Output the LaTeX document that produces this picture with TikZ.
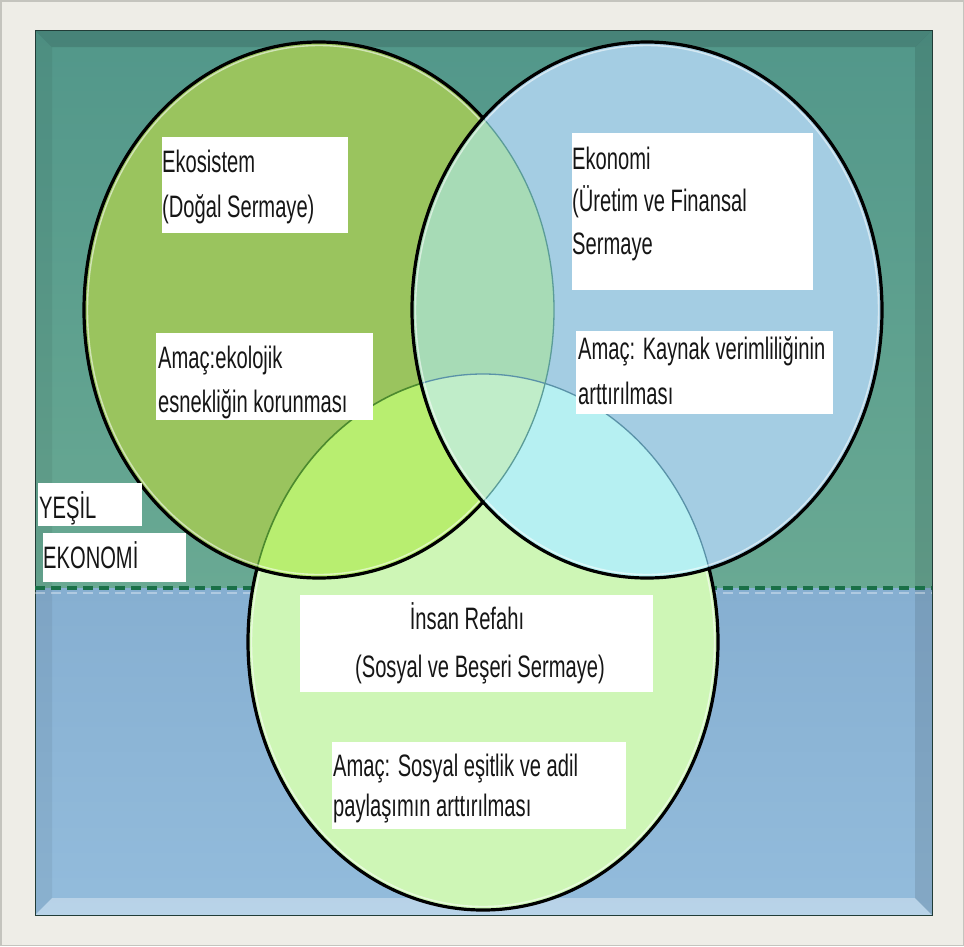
\documentclass[tikz,border=0pt]{standalone}
\usepackage{fontspec}
\newfontfamily\narrowfont[FakeStretch=0.65]{Liberation Sans}
\definecolor{framecol}{HTML}{EEEDE7}
\definecolor{framebd}{HTML}{C4C4BE}
\definecolor{tealtop}{HTML}{52978A}
\definecolor{tealbot}{HTML}{69A993}
\definecolor{bluetop}{HTML}{86AFD1}
\definecolor{bluebot}{HTML}{93BCDC}
\definecolor{cA}{HTML}{9AC45E}
\definecolor{cB}{HTML}{A4CDE3}
\definecolor{cC}{HTML}{CEF6B6}
\definecolor{cAB}{HTML}{A7DBB6}
\definecolor{cAC}{HTML}{B8EE70}
\definecolor{cBC}{HTML}{B6F0F2}
\definecolor{cABC}{HTML}{C0EDC9}
\definecolor{dashcol}{HTML}{1A7048}
\definecolor{txtcol}{HTML}{161616}
\definecolor{arcA}{HTML}{4C8A2E}
\definecolor{arcB}{HTML}{5A92A8}
\definecolor{arcAin}{HTML}{5B9C98}
\def\ellA{(319,310) ellipse [x radius=235, y radius=268]}
\def\ellB{(647,310) ellipse [x radius=235, y radius=268]}
\def\ellC{(483,642) ellipse [x radius=235, y radius=268]}
\def\ellAh{(319,310) ellipse [x radius=231.5, y radius=264.5]}
\def\ellBh{(647,310) ellipse [x radius=231.5, y radius=264.5]}
\def\ellCh{(483,642) ellipse [x radius=231.5, y radius=264.5]}
\tikzset{
  panel/.style={fill=white, inner sep=0pt, anchor=north west},
  lbl/.style={font=\narrowfont\fontsize{31}{36}\selectfont, text=txtcol, inner sep=0pt},
  rim/.style={draw=black, line width=3.2pt},
  glow/.style={draw=white, line width=1.4pt, opacity=0.55},
}
\begin{document}
\begin{tikzpicture}[x=1pt,y=-1pt]
\useasboundingbox (0,0) rectangle (964,946);
% outer frame
\fill[framecol] (0,0) rectangle (964,946);
\draw[framebd, line width=1.5pt] (0.75,0.75) rectangle (963.25,945.25);
% inner background
\shade[top color=tealtop, bottom color=tealbot] (35,30) rectangle (932,588);
\shade[top color=bluetop, bottom color=bluebot] (35,588) rectangle (932,915);
% bevel
\fill[black, opacity=0.13] (35,30) -- (932,30) -- (915,47) -- (52,47) -- cycle;
\fill[black, opacity=0.06] (35,30) -- (52,47) -- (52,898) -- (35,915) -- cycle;
\fill[black, opacity=0.10] (932,30) -- (932,915) -- (915,898) -- (915,47) -- cycle;
\fill[white, opacity=0.35] (35,915) -- (932,915) -- (915,898) -- (52,898) -- cycle;
\draw[black!60!tealtop, line width=0.8pt] (35,30) rectangle (932,915);
% dashed line
\draw[white, opacity=0.35, line width=2pt, dash pattern=on 10pt off 6pt] (35,593) -- (932,593);
\draw[dashcol, line width=3.8pt, dash pattern=on 10pt off 6pt] (35,588) -- (932,588);
% circle C
\fill[cC] \ellC;
\draw[glow] \ellCh;
\draw[rim] \ellC;
% circle A
\fill[cA] \ellA;
\begin{scope}\clip \ellC; \fill[cAC] \ellA; \end{scope}
\begin{scope}\clip \ellA; \draw[arcA, line width=1.6pt] \ellC; \end{scope}
\draw[glow] \ellAh;
\draw[rim] \ellA;
% circle B
\fill[cB] \ellB;
\begin{scope}\clip \ellC; \fill[cBC] \ellB; \end{scope}
\begin{scope}\clip \ellA; \fill[cAB] \ellB; \end{scope}
\begin{scope}\clip \ellA; \clip \ellC; \fill[cABC] \ellB; \end{scope}
\begin{scope}\clip \ellB; \draw[arcB, line width=1.3pt] \ellC; \draw[arcAin, line width=1.3pt] \ellA; \end{scope}
\draw[glow] \ellBh;
\draw[rim] \ellB;
% boxes
\node[panel, minimum width=186, minimum height=96] (b1) at (162,137) {};
\node[panel, minimum width=217, minimum height=87] (b2) at (156,333) {};
\node[panel, minimum width=241, minimum height=157] (b3) at (572,133) {};
\node[panel, minimum width=257, minimum height=83] (b4) at (576,331) {};
\node[panel, minimum width=104, minimum height=43] (b5) at (38,483) {};
\node[panel, minimum width=143, minimum height=49] (b6) at (43,533) {};
\node[panel, minimum width=353, minimum height=97] (b7) at (300,595) {};
\node[panel, minimum width=294, minimum height=87] (b8) at (332,742) {};
% texts
\node[lbl, anchor=base west] (t1) at (162,172) {Ekosistem};
\node[lbl, anchor=base west] (t2) at (162,217) {(Doğal Sermaye)};
\node[lbl, anchor=base west] (t3) at (158,368) {Amaç:ekolojik};
\node[lbl, anchor=base west] (t4) at (158,412) {esnekliğin korunması};
\node[lbl, anchor=base west] (t5) at (572,169) {Ekonomi};
\node[lbl, anchor=base west] (t6) at (572,211) {(Üretim ve Finansal};
\node[lbl, anchor=base west] (t7) at (572,254) {Sermaye};
\node[lbl, anchor=base west] (t8) at (578,359) {Amaç: Kaynak verimliliğinin};
\node[lbl, anchor=base west] (t9) at (578,404) {arttırılması};
\node[lbl, anchor=base west] (t10) at (39,518) {YEŞİL};
\node[lbl, anchor=base west] (t11) at (43,568) {EKONOMİ};
\node[lbl, anchor=base] (t12) at (467,629) {İnsan Refahı};
\node[lbl, anchor=base] (t13) at (480,677) {(Sosyal ve Beşeri Sermaye)};
\node[lbl, anchor=base west] (t14) at (333,776) {Amaç: Sosyal eşitlik ve adil};
\node[lbl, anchor=base west] (t15) at (333,816) {paylaşımın arttırılması};
\end{tikzpicture}
\end{document}
